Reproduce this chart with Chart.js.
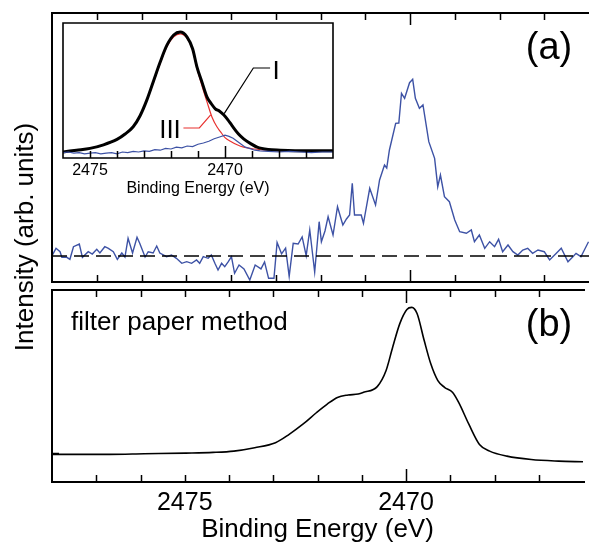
<!DOCTYPE html>
<html>
<head>
<meta charset="utf-8">
<script src="https://cdn.jsdelivr.net/npm/chart.js@4.4.1/dist/chart.umd.min.js"></script>
<style>
  html, body { margin: 0; padding: 0; background: #fff; overflow: hidden; }
  #wrap { position: relative; width: 589px; height: 547px; font-family: "Liberation Sans", Arial, sans-serif; color: #000; }
  canvas { position: absolute; }
  .lbl { position: absolute; white-space: nowrap; line-height: 1; text-align: center; }
</style>
</head>
<body>
<div id="wrap">
  <canvas id="topChart" width="589" height="290" style="left:0;top:0;width:589px;height:290px"></canvas>
  <canvas id="bottomChart" width="589" height="263" style="left:0;top:284px;width:589px;height:263px"></canvas>
  <canvas id="insetChart" width="310" height="190" style="left:40px;top:10px;width:310px;height:190px"></canvas>

  <div class="lbl" style="left:-126px;top:222px;width:300px;height:30px;line-height:30px;font-size:26px;transform:rotate(-90deg)">Intensity (arb. units)</div>
  <div class="lbl" style="left:500px;top:27px;width:98px;font-size:38px">(a)</div>
  <div class="lbl" style="left:500px;top:304px;width:98px;font-size:38px">(b)</div>
  <div class="lbl" style="left:71px;top:308px;text-align:left;font-size:26px">filter paper method</div>
  <div class="lbl" style="left:256px;top:57px;width:40px;font-size:26px">I</div>
  <div class="lbl" style="left:145px;top:116px;width:50px;font-size:26px">III</div>
</div>

<script>
// ---- data ----
const labeledTicks = [2475, 2470];

// (a) difference spectrum, blue
const diffEnergy = [2477.99, 2477.91, 2477.82, 2477.78, 2477.67, 2477.60, 2477.52, 2477.39, 2477.32, 2477.19, 2477.10, 2477.00, 2476.93, 2476.82, 2476.74, 2476.63, 2476.54, 2476.44, 2476.37, 2476.30, 2476.20, 2476.10, 2476.04, 2475.92, 2475.85, 2475.74, 2475.66, 2475.59, 2475.44, 2475.33, 2475.22, 2475.10, 2474.99, 2474.88, 2474.77, 2474.70, 2474.62, 2474.51, 2474.44, 2474.36, 2474.29, 2474.21, 2474.14, 2474.06, 2473.99, 2473.92, 2473.82, 2473.71, 2473.58, 2473.46, 2473.33, 2473.25, 2473.16, 2473.04, 2472.97, 2472.87, 2472.78, 2472.70, 2472.61, 2472.50, 2472.41, 2472.32, 2472.24, 2472.13, 2472.03, 2471.98, 2471.90, 2471.83, 2471.72, 2471.62, 2471.50, 2471.42, 2471.35, 2471.29, 2471.24, 2471.09, 2471.04, 2470.90, 2470.77, 2470.68, 2470.57, 2470.52, 2470.46, 2470.32, 2470.25, 2470.19, 2470.12, 2470.01, 2469.94, 2469.88, 2469.79, 2469.71, 2469.58, 2469.45, 2469.38, 2469.32, 2469.23, 2469.12, 2469.00, 2468.89, 2468.74, 2468.63, 2468.56, 2468.45, 2468.33, 2468.22, 2468.11, 2468.02, 2467.93, 2467.81, 2467.70, 2467.59, 2467.48, 2467.37, 2467.26, 2467.14, 2467.00, 2466.88, 2466.73, 2466.62, 2466.47, 2466.36, 2466.29, 2466.18, 2466.01];
const diffIntensity = [0.1, 0.77, 0.43, -0.13, -0.13, -0.33, 0.93, 1.2, -0.13, 0.43, 0.2, 0.67, 0.3, 0.93, 0.77, 0.43, -0.33, 0.3, -0.1, 1.77, 0.3, 1.87, 1.27, -0.1, 0.43, 0.3, 1.0, 0.3, -0.07, 0.1, -0.23, -0.73, -0.57, -0.73, -0.4, -0.73, -0.07, -0.23, 0.1, -0.73, -1.4, -0.73, -1.07, -0.57, -0.07, -1.73, -0.9, -1.29, -2.4, -0.9, -1.29, -0.6, -2.23, -2.23, 1.34, 0.22, 0.78, -2.04, 1.27, 1.2, 1.91, 0.03, 2.6, -1.6, 3.43, 1.43, 2.5, 3.93, 2.1, 4.93, 3.1, 3.7, 4.1, 7.27, 4.1, 4.1, 3.27, 6.77, 5.1, 7.6, 9.1, 8.8, 10.6, 13.27, 13.3, 16.27, 15.77, 17.33, 17.67, 15.77, 14.77, 15.1, 11.43, 9.77, 6.93, 8.1, 5.93, 5.43, 3.6, 2.43, 2.27, 2.6, 1.43, 2.1, 0.77, 1.43, 0.93, 1.67, 0.43, 1.1, 0.43, 0.1, 0.6, 0.77, 0.27, 0.6, 0.43, -0.4, 0.27, 0.77, -0.57, -0.07, 0.27, -0.07, 1.43];
const baselineLevel = 0;

// (b) filter paper method
const filterEnergy = [2478.0, 2476.7, 2475.92, 2474.98, 2474.36, 2473.89, 2473.42, 2472.95, 2472.64, 2472.33, 2472.02, 2471.78, 2471.55, 2471.31, 2471.08, 2470.96, 2470.65, 2470.45, 2470.30, 2470.14, 2469.98, 2469.87, 2469.75, 2469.59, 2469.44, 2469.28, 2469.13, 2468.95, 2468.81, 2468.58, 2468.34, 2468.11, 2467.72, 2467.17, 2466.55, 2466.0];
const filterIntensity = [0.76, 0.76, 0.82, 0.89, 0.96, 1.09, 1.43, 1.93, 2.77, 3.78, 4.95, 5.79, 6.46, 6.7, 6.8, 6.97, 7.54, 9.15, 11.5, 13.84, 15.25, 15.46, 14.85, 12.17, 9.82, 8.14, 7.47, 6.97, 5.96, 3.78, 1.76, 1.09, 0.59, 0.25, 0.09, 0.02];

// inset: spectra I (black), III (red) and their difference (blue)
const specIEnergy = [2476.0, 2475.5, 2475.0, 2474.5, 2474.0, 2473.7, 2473.4, 2473.15, 2472.9, 2472.65, 2472.4, 2472.15, 2471.9, 2471.66, 2471.41, 2471.2, 2471.04, 2470.85, 2470.67, 2470.5, 2470.36, 2470.2, 2470.05, 2469.9, 2469.74, 2469.5, 2469.31, 2469.05, 2468.81, 2468.4, 2467.95, 2467.0, 2466.0];
const specIValue = [0.0, 0.015, 0.03, 0.06, 0.105, 0.15, 0.21, 0.30, 0.43, 0.59, 0.75, 0.89, 0.975, 1.0, 0.96, 0.86, 0.71, 0.58, 0.46, 0.40, 0.36, 0.34, 0.31, 0.27, 0.22, 0.15, 0.11, 0.07, 0.04, 0.02, 0.015, 0.01, 0.01];
const specIIIEnergy = [2476.0, 2475.5, 2475.0, 2474.5, 2474.0, 2473.7, 2473.4, 2473.15, 2472.9, 2472.65, 2472.4, 2472.15, 2471.9, 2471.66, 2471.41, 2471.2, 2471.04, 2470.85, 2470.67, 2470.48, 2470.3, 2470.17, 2470.0, 2469.8, 2469.55, 2469.31, 2468.9, 2468.44, 2467.5, 2466.0];
const specIIIValue = [0.0, 0.015, 0.03, 0.06, 0.105, 0.15, 0.21, 0.30, 0.43, 0.58, 0.74, 0.88, 0.96, 0.985, 0.95, 0.85, 0.70, 0.55, 0.42, 0.29, 0.21, 0.17, 0.12, 0.09, 0.06, 0.04, 0.025, 0.015, 0.01, 0.005];
const insetDiffEnergy = [2476.0, 2475.8, 2475.6, 2475.4, 2475.2, 2475.0, 2474.8, 2474.6, 2474.4, 2474.2, 2474.0, 2473.8, 2473.6, 2473.4, 2473.2, 2473.0, 2472.8, 2472.6, 2472.4, 2472.2, 2472.0, 2471.8, 2471.6, 2471.4, 2471.2, 2471.0, 2470.8, 2470.6, 2470.4, 2470.2, 2470.0, 2469.85, 2469.7, 2469.55, 2469.4, 2469.25, 2469.1, 2468.9, 2468.7, 2468.4, 2468.0, 2467.6, 2467.2, 2466.8, 2466.4, 2466.0];
const insetDiffValue = [-0.005, 0.0, -0.01, -0.005, -0.015, -0.01, -0.005, -0.015, -0.01, -0.005, -0.015, 0.0, -0.005, 0.005, 0.0, 0.01, 0.005, 0.02, 0.015, 0.03, 0.025, 0.04, 0.035, 0.05, 0.045, 0.065, 0.075, 0.09, 0.11, 0.125, 0.14, 0.13, 0.115, 0.09, 0.065, 0.04, 0.03, 0.015, 0.01, 0.005, 0.0, 0.005, 0.0, -0.005, 0.0, 0.0];

// leader lines for the I / III labels, in data units of the inset
const leaderI = [[2468.33, 0.70], [2468.95, 0.70], [2470.03, 0.32]];
const leaderIII = [[2471.54, 0.20], [2470.95, 0.20], [2470.53, 0.31]];

// ---- helpers ----
function toPoints(xs, ys) {
    return xs.map((x, i) => ({ x: x, y: ys[i] }));
}

Chart.defaults.font.family = '"Liberation Sans", Arial, sans-serif';
Chart.defaults.color = '#000';

// frame (left/top/bottom, optional right) with inward ticks every 1 eV
const frameTicks = {
    id: 'frameTicks',
    afterDatasetsDraw(chart, args, opts) {
        const { ctx, chartArea: a, scales } = chart;
        const x = scales.x, y = scales.y;
        ctx.save();
        ctx.strokeStyle = '#000';
        ctx.lineWidth = 1.5;
        ctx.beginPath();
        for (let e = Math.ceil(x.min); e <= x.max; e++) {
            const px = Math.round(x.getPixelForValue(e)) + 0.5;
            if (px <= a.left + 2 || px >= a.right - 2) continue;
            const len = e % 10 === 0 ? opts.major : opts.minor;
            if (opts.top) { ctx.moveTo(px, a.top); ctx.lineTo(px, a.top + len); }
            ctx.moveTo(px, a.bottom); ctx.lineTo(px, a.bottom - len);
        }
        (opts.yTicks || []).forEach(v => {
            const py = Math.round(y.getPixelForValue(v)) + 0.5;
            ctx.moveTo(a.left, py); ctx.lineTo(a.left + opts.minor, py);
        });
        ctx.stroke();

        ctx.lineWidth = opts.frameWidth || 2;
        ctx.beginPath();
        if (opts.right) {
            ctx.rect(a.left, a.top, a.right - a.left, a.bottom - a.top);
        } else {
            ctx.moveTo(a.right + 2, a.top);
            ctx.lineTo(a.left, a.top);
            ctx.lineTo(a.left, a.bottom);
            ctx.lineTo(a.right + 2, a.bottom);
        }
        ctx.stroke();

        // label leader lines
        (opts.leaders || []).forEach(l => {
            ctx.strokeStyle = l.color;
            ctx.lineWidth = 1.2;
            ctx.beginPath();
            l.pts.forEach((p, i) => {
                const px = x.getPixelForValue(p[0]), py = y.getPixelForValue(p[1]);
                if (i === 0) ctx.moveTo(px, py); else ctx.lineTo(px, py);
            });
            ctx.stroke();
        });
        ctx.restore();
    }
};

const baseOptions = {
    responsive: false,
    animation: false,
    devicePixelRatio: 1,
    events: [],
    elements: { point: { radius: 0 } },
    plugins: { legend: { display: false }, tooltip: { enabled: false } }
};

// ---- (a) ----
new Chart(document.getElementById('topChart'), {
    type: 'line',
    data: {
        datasets: [{
            data: [{ x: 2478, y: baselineLevel }, { x: 2466, y: baselineLevel }],
            borderColor: '#000',
            borderWidth: 1.5,
            borderDash: [15, 7]
        }, {
            data: toPoints(diffEnergy, diffIntensity),
            borderColor: '#3d52a5',
            borderWidth: 1.4,
            tension: 0
        }]
    },
    options: {
        ...baseOptions,
        layout: { padding: { left: 52, top: 13, right: 0, bottom: 8 } },
        scales: {
            x: { type: 'linear', reverse: true, min: 2466, max: 2478, display: false },
            y: { min: -2.6, max: 24.3, display: false }
        },
        plugins: {
            ...baseOptions.plugins,
            frameTicks: { top: true, minor: 7, major: 12, frameWidth: 2 }
        }
    },
    plugins: [frameTicks]
});

// ---- (b) ----
new Chart(document.getElementById('bottomChart'), {
    type: 'line',
    data: {
        datasets: [{
            data: toPoints(filterEnergy, filterIntensity),
            borderColor: '#000',
            borderWidth: 1.6,
            cubicInterpolationMode: 'monotone'
        }]
    },
    options: {
        ...baseOptions,
        layout: { padding: { left: 52, top: 6, right: 0, bottom: 0 } },
        scales: {
            x: {
                type: 'linear', reverse: true, min: 2466, max: 2478,
                grid: { display: false, drawTicks: false },
                border: { display: false },
                afterFit: s => { s.height = 65; },
                ticks: {
                    stepSize: 1, autoSkip: false, maxRotation: 0, padding: 6,
                    font: { size: 25 },
                    callback: v => labeledTicks.includes(v) ? String(v) : ''
                },
                title: { display: true, text: 'Binding Energy (eV)', font: { size: 26 }, padding: { top: 0, bottom: 2 } }
            },
            y: { min: -2.0, max: 17.2, display: false }
        },
        plugins: {
            ...baseOptions.plugins,
            frameTicks: { top: true, minor: 7, major: 13, frameWidth: 2, yTicks: [0.9] }
        }
    },
    plugins: [frameTicks]
});

// ---- inset ----
new Chart(document.getElementById('insetChart'), {
    type: 'line',
    data: {
        datasets: [{
            data: toPoints(insetDiffEnergy, insetDiffValue),
            borderColor: '#3d52a5',
            borderWidth: 1.2
        }, {
            data: toPoints(specIEnergy, specIValue),
            borderColor: '#000',
            borderWidth: 3,
            cubicInterpolationMode: 'monotone'
        }, {
            data: toPoints(specIIIEnergy, specIIIValue),
            borderColor: '#e8312f',
            borderWidth: 1.2,
            cubicInterpolationMode: 'monotone'
        }]
    },
    options: {
        ...baseOptions,
        layout: { padding: { left: 23, top: 13, right: 17, bottom: 0 } },
        scales: {
            x: {
                type: 'linear', reverse: true, min: 2466, max: 2476,
                grid: { display: false, drawTicks: false },
                border: { display: false },
                afterFit: s => { s.height = 42; },
                ticks: {
                    stepSize: 1, autoSkip: false, maxRotation: 0, padding: 3,
                    font: { size: 16 },
                    callback: v => labeledTicks.includes(v) ? String(v) : ''
                },
                title: { display: true, text: 'Binding Energy (eV)', font: { size: 16 }, padding: { top: 0, bottom: 2 } }
            },
            y: { min: -0.05, max: 1.075, display: false }
        },
        plugins: {
            ...baseOptions.plugins,
            frameTicks: {
                top: false, right: true, minor: 7, major: 12, frameWidth: 1.6,
                leaders: [{ color: '#000', pts: leaderI }, { color: '#e8312f', pts: leaderIII }]
            }
        }
    },
    plugins: [frameTicks]
});
</script>
</body>
</html>
